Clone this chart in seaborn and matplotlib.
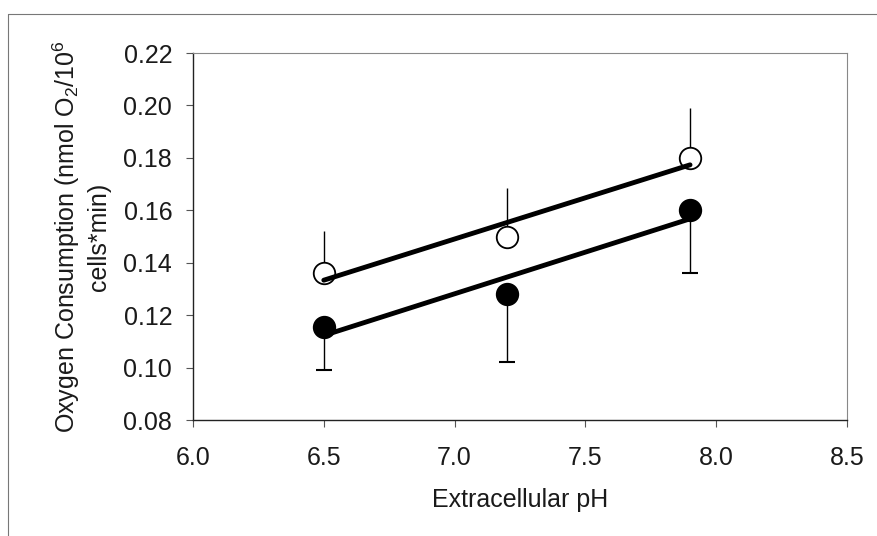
import matplotlib
matplotlib.use("Agg")
import matplotlib.pyplot as plt
import seaborn as sns
import numpy as np
import pandas as pd
from matplotlib.lines import Line2D

ph = [6.5, 7.2, 7.9]
open_vals = [0.136, 0.150, 0.180]
open_err_up = [0.016, 0.0185, 0.019]
filled_vals = [0.1155, 0.128, 0.160]
filled_err_down = [0.0165, 0.026, 0.024]

xticks = [6.0, 6.5, 7.0, 7.5, 8.0, 8.5]
yticks = [0.08, 0.10, 0.12, 0.14, 0.16, 0.18, 0.20, 0.22]

sns.set_theme(style="white")
plt.rcParams['font.family'] = ['Liberation Sans', 'DejaVu Sans']
plt.rcParams['mathtext.fontset'] = 'custom'
plt.rcParams['mathtext.rm'] = 'Liberation Sans'

df_open = pd.DataFrame({"ph": ph, "val": open_vals})
df_filled = pd.DataFrame({"ph": ph, "val": filled_vals})

fig = plt.figure(figsize=(8.78, 5.36), dpi=100)
ax = fig.add_axes([193/878, 1 - 420/536, (847 - 193)/878, (420 - 53)/536])

# error bars (one-sided)
ax.errorbar(ph, open_vals, yerr=[np.zeros(3), open_err_up], fmt='none',
            ecolor='black', elinewidth=1.0, capsize=0, zorder=2)
ax.errorbar(ph, filled_vals, yerr=[filled_err_down, np.zeros(3)], fmt='none',
            ecolor='black', elinewidth=1.0, capsize=6, capthick=1.5, zorder=2)

# markers
sns.scatterplot(data=df_open, x="ph", y="val", ax=ax, s=240, marker='o',
                facecolor='white', edgecolor='black', linewidth=1.3, zorder=3)
sns.scatterplot(data=df_filled, x="ph", y="val", ax=ax, s=240, marker='o',
                color='black', edgecolor='black', linewidth=1.3, zorder=3)

# regression lines
sns.regplot(data=df_open, x="ph", y="val", ax=ax, scatter=False, ci=None,
            truncate=True, line_kws=dict(color='black', lw=3.5, zorder=4))
sns.regplot(data=df_filled, x="ph", y="val", ax=ax, scatter=False, ci=None,
            truncate=True, line_kws=dict(color='black', lw=3.5, zorder=4))

ax.set_xlim(6.0, 8.5)
ax.set_ylim(0.08, 0.22)
ax.set_xticks(xticks)
ax.set_xticklabels([f"{t:.1f}" for t in xticks])
ax.set_yticks(yticks)
ax.set_yticklabels([f"{t:.2f}" for t in yticks])
ax.tick_params(axis='both', direction='out', length=5, width=0.8,
               colors='#555555', labelcolor='#1a1a1a', labelsize=18,
               left=True, bottom=True)
ax.tick_params(axis='x', pad=14)
ax.tick_params(axis='y', pad=10)

for s in ['left', 'bottom']:
    ax.spines[s].set_color('#222222')
    ax.spines[s].set_linewidth(1.0)
for s in ['top', 'right']:
    ax.spines[s].set_color('#888888')
    ax.spines[s].set_linewidth(0.8)

ax.set_xlabel("Extracellular pH", fontsize=18, color='#1a1a1a', labelpad=13)
ax.set_ylabel("Oxygen Consumption (nmol O$_2$/10$^6$\ncells*min)", fontsize=18,
              color='#1a1a1a', labelpad=9, linespacing=1.25)

# outer figure frame
fig.add_artist(Line2D([8/878, 1.0], [1 - 14/536, 1 - 14/536], transform=fig.transFigure,
                      color='#777777', lw=0.8))
fig.add_artist(Line2D([8/878, 8/878], [0.0, 1 - 14/536], transform=fig.transFigure,
                      color='#777777', lw=0.8))

fig.savefig("out.png", dpi=100)
